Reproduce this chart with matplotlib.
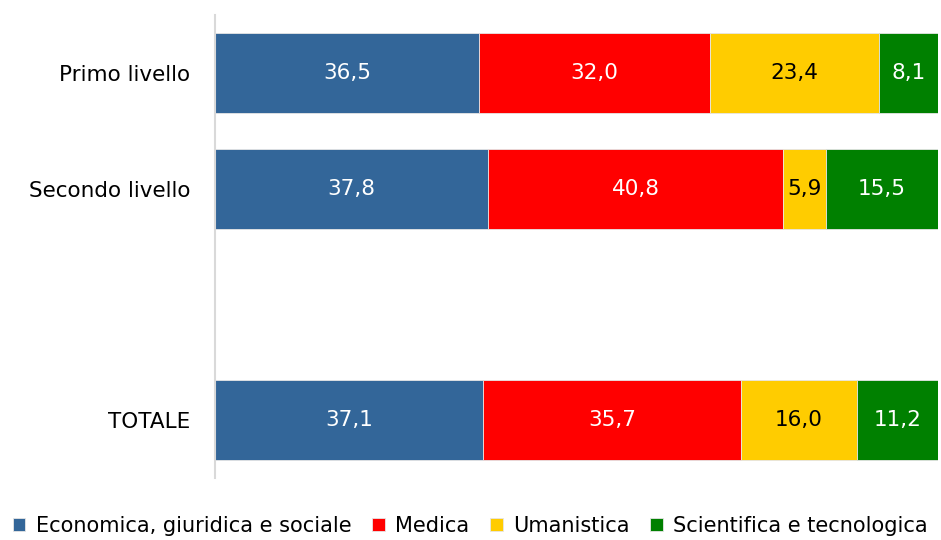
import numpy as np
import matplotlib.pyplot as plt

categories = ['Primo livello', 'Secondo livello', '', 'TOTALE']
series = ['Economica, giuridica e sociale', 'Medica', 'Umanistica', 'Scientifica e tecnologica']
economica = [36.5, 37.8, np.nan, 37.1]
medica = [32.0, 40.8, np.nan, 35.7]
umanistica = [23.4, 5.9, np.nan, 16.0]
scientifica = [8.1, 15.5, np.nan, 11.2]
colors = ['#336699', '#FF0000', '#FFCC00', '#008000']
text_colors = ['white', 'white', 'black', 'white']

plt.rcParams['font.family'] = ['DejaVu Sans']

fig = plt.figure(figsize=(9.41, 5.4), dpi=100)
ax = fig.add_axes([0.2285, 0.1148, 0.768, 0.8574])

y = np.arange(len(categories))
left = np.zeros(len(categories))
for vals, name, col, tcol in zip([economica, medica, umanistica, scientifica], series, colors, text_colors):
    v = np.array(vals)
    bars = ax.barh(y, np.nan_to_num(v), left=left, height=0.69, color=col,
                   edgecolor='#e6e6e6', linewidth=0.6, label=name)
    for b, val in zip(bars, v):
        if np.isnan(val):
            continue
        ax.text(b.get_x() + b.get_width() / 2, b.get_y() + b.get_height() / 2,
                f'{val:.1f}'.replace('.', ','), ha='center', va='center',
                color=tcol, fontsize=15.5)
    left += np.nan_to_num(v)

ax.set_xlim(0, 100)
ax.set_ylim(len(categories) - 0.5, -0.5)
ax.set_yticks(y)
ax.set_yticklabels(categories, fontsize=15.5)
ax.tick_params(axis='y', length=0, pad=18)
ax.set_xticks([])
for s in ['top', 'right', 'bottom']:
    ax.spines[s].set_visible(False)
ax.spines['left'].set_color('#d9d9d9')
ax.spines['left'].set_linewidth(1.5)

fig.legend(loc='center', bbox_to_anchor=(0.5, 0.026), ncol=4, frameon=False,
           fontsize=15, handlelength=0.6, handleheight=0.6, handletextpad=0.5,
           columnspacing=1.0, borderpad=0.1)

fig.savefig('out.png', dpi=100)
